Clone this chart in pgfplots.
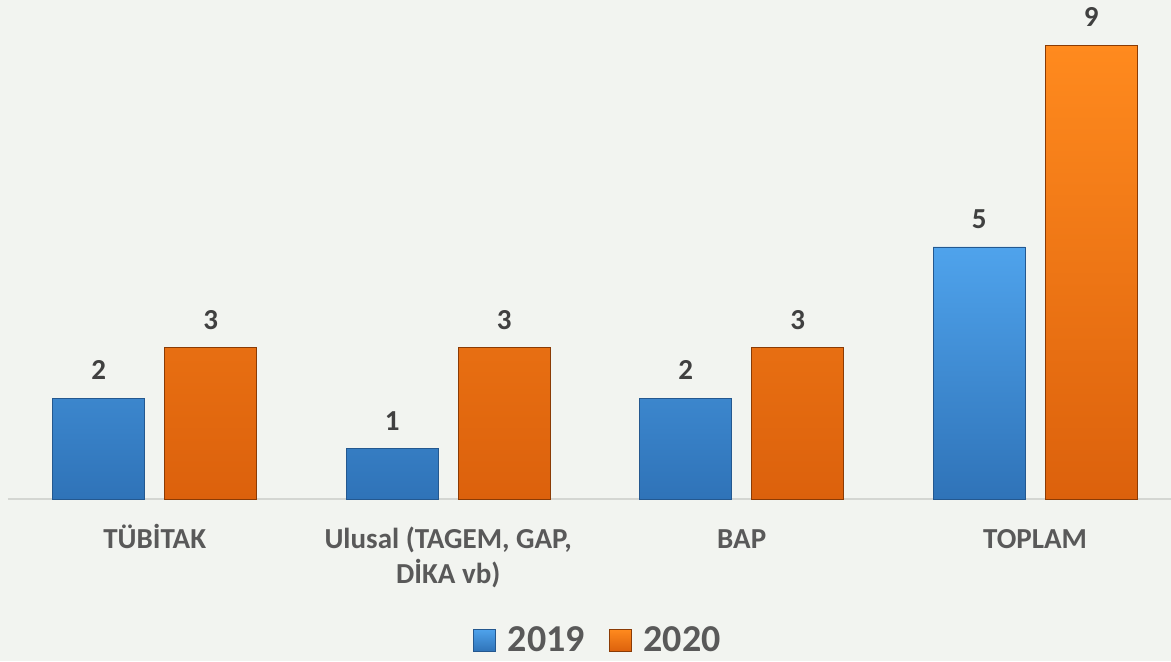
\documentclass[border=0pt]{standalone}
\usepackage{fontspec}
\setmainfont{Carlito}
\usepackage{pgfplots}
\pgfplotsset{compat=1.18}

\definecolor{bg}{HTML}{F2F4F0}
\definecolor{bluetop}{HTML}{4FA3EC}
\definecolor{bluebot}{HTML}{2F73B8}
\definecolor{blueedge}{HTML}{24588F}
\definecolor{orgtop}{HTML}{FF8A1E}
\definecolor{orgbot}{HTML}{DC610C}
\definecolor{orgedge}{HTML}{8A3B05}
\definecolor{valtxt}{HTML}{404040}
\definecolor{cattxt}{HTML}{595959}
\definecolor{axisgrey}{HTML}{D4D6D2}

\begin{document}
\begin{tikzpicture}
% 1 px of the reference = 0.5pt
\fill[bg] (0,0) rectangle (585.5pt,330.5pt);
\begin{axis}[
    at={(4pt,81pt)}, anchor=south west,
    scale only axis,
    width=581.5pt, height=249.5pt,
    ybar, bar width=46pt,
    xmin=-0.5, xmax=3.463,
    ymin=0, ymax=9.9,
    axis y line=none,
    axis x line*=bottom,
    x axis line style={axisgrey, line width=1pt, -},
    xtick={0,1,2,3},
    xticklabels={\rule{0pt}{12pt}TÜBİTAK, {\rule{0pt}{12pt}Ulusal (TAGEM, GAP,\\DİKA vb)}, \rule{0pt}{12pt}BAP, \rule{0pt}{12pt}TOPLAM},
    xtick style={draw=none},
    xticklabel style={font=\fontsize{14.5}{17.5}\selectfont\bfseries, text=cattxt, align=center, anchor=north, yshift=-5pt},
    nodes near coords,
    every node near coord/.append style={font=\fontsize{14.5}{17}\selectfont\bfseries, text=valtxt, anchor=center, yshift=14pt,
        /pgf/number format/assume math mode=true},
    legend style={at={(0.508,-0.283)}, anchor=center, draw=none, fill=none,
        font=\fontsize{19}{21}\selectfont\bfseries, text=cattxt,
        legend columns=2,
        /tikz/every odd column/.append style={column sep=4pt},
        /tikz/every even column/.append style={column sep=10pt}},
    legend image code/.code={\draw[#1] (0pt,-5.5pt) rectangle (11pt,5.5pt);},
    clip=false,
]
\addplot[bar shift=-28pt, top color=bluetop, bottom color=bluebot, draw=blueedge, line width=0.4pt]
    coordinates {(0,2) (1,1) (2,2) (3,5)};
\addplot[bar shift=28pt, top color=orgtop, bottom color=orgbot, draw=orgedge, line width=0.4pt]
    coordinates {(0,3) (1,3) (2,3) (3,9)};
\legend{2019, 2020}
\end{axis}
\pgfresetboundingbox
\path (0,0) rectangle (585.5pt,330.5pt);
\end{tikzpicture}
\end{document}
